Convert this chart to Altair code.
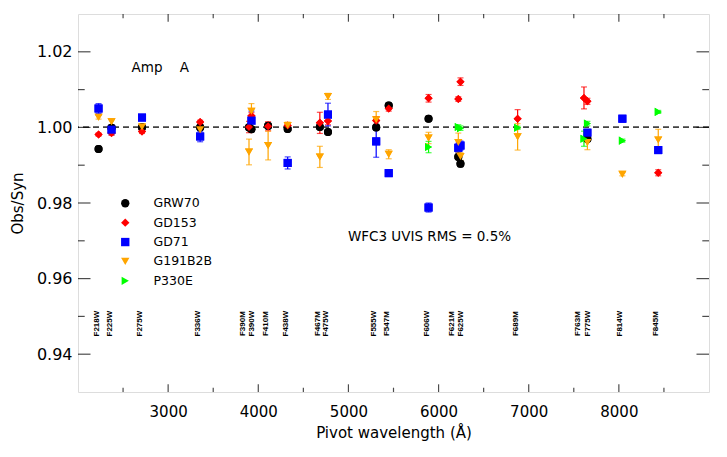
import altair as alt
import pandas as pd

# ---------------- data ----------------
filters = ["F218W", "F225W", "F275W", "F336W", "F390M", "F390W", "F410M", "F438W",
           "F467M", "F475W", "F555W", "F547M", "F606W", "F621M", "F625W", "F689M",
           "F763M", "F775W", "F814W", "F845M"]
pivots = [2228, 2372, 2710, 3355, 3897, 3924, 4109, 4326, 4683, 4773, 5308, 5447,
          5889, 6219, 6243, 6877, 7613, 7651, 8039, 8437]
# label positions (Å) – close pairs are spread apart as in the original
label_pos = [2228, 2372, 2710, 3355, 3852, 3952, 4109, 4326, 4683, 4773, 5308, 5447,
             5889, 6167, 6270, 6877, 7573, 7684, 8039, 8437]

stars = ["GRW70", "GD153", "GD71", "G191B2B", "P330E"]
colors = ["#000000", "#ff0000", "#0000ff", "#ffa500", "#00ff00"]
shapes = ["circle", "diamond", "square", "triangle-down", "triangle-right"]
star_rank = [0, 1, 2, 3, 4]

grw70_val = [0.9943, 0.9999, 1.0000, 1.0000, 1.0000, 0.9995, 1.0004, 0.9996, 1.0001, 0.9988,
             1.0000, 1.0058, 1.0023, 0.9922, 0.9904, None, None, 0.9969, None, None]
grw70_err = [0.0003, 0.0003, 0.0003, 0.0003, 0.0003, 0.0003, 0.0003, 0.0003, 0.0003, 0.0003,
             0.0003, 0.0004, 0.0003, 0.0004, 0.0008, None, None, 0.0004, None, None]

gd153_val = [0.9981, 0.9985, 0.9989, 1.0014, 1.0001, 1.0031, 1.0003, 1.0005, 1.0012, 1.0017,
             1.0018, 1.0050, 1.0077, 1.0075, 1.0121, 1.0023, 1.0078, 1.0069, None, 0.9880]
gd153_err = [0.0004, 0.0006, 0.0005, 0.0005, 0.0015, 0.0008, 0.0012, 0.0005, 0.0028, 0.0010,
             0.0010, 0.0007, 0.0010, 0.0006, 0.0010, 0.0024, 0.0029, 0.0008, None, 0.0008]

gd71_val = [1.0050, 0.9994, 1.0026, 0.9976, None, 1.0018, None, 0.9906, None, 1.0034,
            0.9963, 0.9879, 0.9788, 0.9946, 0.9952, None, None, 0.9986, 1.0023, 0.9940]
gd71_err = [0.0013, 0.0013, 0.0006, 0.0014, None, 0.0025, None, 0.0016, None, 0.0030,
            0.0042, 0.0004, 0.0012, 0.0012, 0.0012, None, None, 0.0008, 0.0008, 0.0008]

g191_val = [1.0027, 1.0015, 1.0001, 0.9994, 0.9935, 1.0043, 0.9952, 1.0005, 0.9922, 1.0082,
            1.0020, 0.9929, 0.9972, 0.9960, 0.9923, 0.9975, None, 0.9960, 0.9876, 0.9967]
g191_err = [0.0005, 0.0008, 0.0008, 0.0010, 0.0034, 0.0020, 0.0038, 0.0009, 0.0028, 0.0008,
            0.0022, 0.0012, 0.0015, 0.0025, 0.0010, 0.0035, None, 0.0019, 0.0004, 0.0028]

p330e_val = [None, None, None, None, None, None, None, None, None, None,
             None, None, 0.9948, 1.0001, 0.9998, 0.9999, 0.9970, 1.0010, 0.9965, 1.0041]
p330e_err = [None, None, None, None, None, None, None, None, None, None,
             None, None, 0.0015, 0.0006, 0.0006, 0.0004, 0.0020, 0.0006, 0.0004, 0.0004]

star_values = [grw70_val, gd153_val, gd71_val, g191_val, p330e_val]
star_errors = [grw70_err, gd153_err, gd71_err, g191_err, p330e_err]

x_ticks = [3000, 4000, 5000, 6000, 7000, 8000]
x_minor = [2500, 3500, 4500, 5500, 6500, 7500, 8500]
y_ticks = [0.94, 0.96, 0.98, 1.00, 1.02]
y_minor = [0.95, 0.97, 0.99, 1.01]

annot_text = ["Amp", "A", "WFC3 UVIS RMS = 0.5%"]
annot_x = [2594, 3130, 4994]
annot_y = [1.0158, 1.0158, 0.9709]

# ---------------- tables ----------------
rows = []
for s, rk, vals, errs in zip(stars, star_rank, star_values, star_errors):
    for f, w, v, e in zip(filters, pivots, vals, errs):
        if v is None:
            continue
        rows.append({"star": s, "rank": rk, "filter": f, "wave": w, "ratio": v,
                     "lo": v - e, "hi": v + e})
df = pd.DataFrame(rows)
df_labels = pd.DataFrame({"filter": filters, "pos": label_pos})
df_annot = pd.DataFrame({"text": annot_text, "x": annot_x, "y": annot_y})
df_xt = pd.DataFrame({"v": x_ticks})
df_xm = pd.DataFrame({"v": x_minor})
df_yt = pd.DataFrame({"v": y_ticks})
df_ym = pd.DataFrame({"v": y_minor})

FONT = "DejaVu Sans"
xscale = alt.Scale(domain=[2000, 9000], nice=False, zero=False)
yscale = alt.Scale(domain=[0.93, 1.03], nice=False, zero=False)
cscale = alt.Scale(domain=stars, range=colors)
sscale = alt.Scale(domain=stars, range=shapes)

X = alt.X("wave:Q", scale=xscale,
          axis=alt.Axis(values=x_ticks, format="d", title="Pivot wavelength (Å)",
                        grid=False, ticks=False, tickSize=0, domain=False,
                        labelFontSize=15, labelFont=FONT, labelPadding=12,
                        labelColor="#000", titleFont=FONT, titleFontSize=15,
                        titleFontWeight="normal", titleColor="#000",
                        titleY=40, titleBaseline="middle"))
Y = alt.Y("ratio:Q", scale=yscale,
          axis=alt.Axis(values=y_ticks, format=".2f", title="Obs/Syn",
                        grid=False, ticks=False, tickSize=0, domain=False,
                        labelFontSize=16, labelFont=FONT, labelPadding=6,
                        labelColor="#000", titleFont=FONT, titleFontSize=15,
                        titleFontWeight="normal", titleColor="#000",
                        titleX=-61, titleY=189, titleBaseline="middle",
                        titleAlign="center"))

base = alt.Chart(df)

legend = alt.Legend(orient="none", legendX=41, legendY=183, title=None,
                    labelFontSize=12.5, labelFont=FONT, labelColor="#000",
                    symbolSize=70, labelOffset=22, rowPadding=6.4,
                    padding=0, symbolStrokeWidth=0, symbolOpacity=1)

pts = base.mark_point(filled=True, opacity=1, size=65, strokeWidth=0).encode(
    x=X, y=Y,
    color=alt.Color("star:N", scale=cscale, sort=stars, legend=legend),
    shape=alt.Shape("star:N", scale=sscale, sort=stars),
    order=alt.Order("rank:Q"))

ref = alt.Chart(df_yt).mark_rule(strokeDash=[6, 4], color="#444", strokeWidth=1.2).encode(
    y=alt.datum(1.0, scale=yscale))

err = base.mark_rule(strokeWidth=1.2).encode(
    x=X, y=alt.Y("lo:Q", scale=yscale), y2="hi:Q",
    color=alt.Color("star:N", scale=cscale, legend=None))
cap_lo = base.mark_tick(orient="horizontal", size=6, thickness=1.2).encode(
    x=X, y=alt.Y("lo:Q", scale=yscale),
    color=alt.Color("star:N", scale=cscale, legend=None))
cap_hi = base.mark_tick(orient="horizontal", size=6, thickness=1.2).encode(
    x=X, y=alt.Y("hi:Q", scale=yscale),
    color=alt.Color("star:N", scale=cscale, legend=None))

flabels = alt.Chart(df_labels).mark_text(
    angle=270, font="Liberation Sans", fontWeight="bold", fontSize=8,
    align="center", baseline="middle", color="#000", xOffset=-2).encode(
    x=alt.X("pos:Q", scale=xscale), y=alt.datum(0.9481, scale=yscale), text="filter:N")

annots = alt.Chart(df_annot).mark_text(
    font=FONT, fontSize=13.5, align="left", baseline="middle", color="#000").encode(
    x=alt.X("x:Q", scale=xscale), y=alt.Y("y:Q", scale=yscale), text="text:N")

# inward axis ticks on all four sides
yt_left = alt.Chart(df_yt).mark_tick(orient="horizontal", size=12.5, thickness=1.2,
                                     xOffset=6.25, color="#000").encode(
    x=alt.datum(2000, scale=xscale), y=alt.Y("v:Q", scale=yscale))
yt_right = alt.Chart(df_yt).mark_tick(orient="horizontal", size=12.5, thickness=1.2,
                                      xOffset=-6.25, color="#000").encode(
    x=alt.datum(9000, scale=xscale), y=alt.Y("v:Q", scale=yscale))
ym_left = alt.Chart(df_ym).mark_tick(orient="horizontal", size=6.7, thickness=1.2,
                                     xOffset=3.35, color="#000").encode(
    x=alt.datum(2000, scale=xscale), y=alt.Y("v:Q", scale=yscale))
ym_right = alt.Chart(df_ym).mark_tick(orient="horizontal", size=6.7, thickness=1.2,
                                      xOffset=-3.35, color="#000").encode(
    x=alt.datum(9000, scale=xscale), y=alt.Y("v:Q", scale=yscale))
xt_bot = alt.Chart(df_xt).mark_tick(orient="vertical", size=7.7, thickness=1.2,
                                    yOffset=-3.85, color="#000").encode(
    x=alt.X("v:Q", scale=xscale), y=alt.datum(0.93, scale=yscale))
xt_top = alt.Chart(df_xt).mark_tick(orient="vertical", size=7.7, thickness=1.2,
                                    yOffset=3.85, color="#000").encode(
    x=alt.X("v:Q", scale=xscale), y=alt.datum(1.03, scale=yscale))
xm_bot = alt.Chart(df_xm).mark_tick(orient="vertical", size=4.3, thickness=1.2,
                                    yOffset=-2.15, color="#000").encode(
    x=alt.X("v:Q", scale=xscale), y=alt.datum(0.93, scale=yscale))
xm_top = alt.Chart(df_xm).mark_tick(orient="vertical", size=4.3, thickness=1.2,
                                    yOffset=2.15, color="#000").encode(
    x=alt.X("v:Q", scale=xscale), y=alt.datum(1.03, scale=yscale))

# points layer first (gives the legend) and again last (drawn above the error bars)
chart = alt.layer(
    pts, ref, err, cap_lo, cap_hi, pts,
    flabels, annots,
    yt_left, yt_right, ym_left, ym_right, xt_bot, xt_top, xm_bot, xm_top
).properties(
    width=631, height=378,
    autosize=alt.AutoSizeParams(type="none"),
    padding={"left": 70, "top": 6, "right": 10, "bottom": 57},
).configure_view(
    stroke="#000", strokeWidth=1.3
).configure(background="white")

chart.save("out.html", embed_options={"renderer": "svg", "actions": False})
